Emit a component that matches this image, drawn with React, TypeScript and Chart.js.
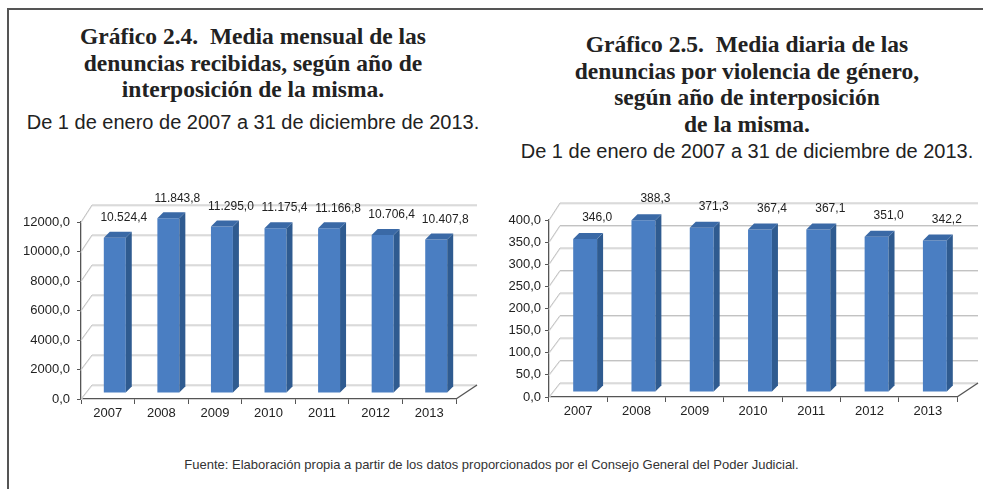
import React, { useEffect, useRef } from "react";
import { Chart, registerables } from "chart.js";
Chart.register(...registerables);

const years = ["2007", "2008", "2009", "2010", "2011", "2012", "2013"];
const monthlyMeans = [10524.4, 11843.8, 11295.0, 11175.4, 11166.8, 10706.4, 10407.8];
const dailyMeans = [346.0, 388.3, 371.3, 367.4, 367.1, 351.0, 342.2];
const monthlyTicks = [0, 2000, 4000, 6000, 8000, 10000, 12000];
const dailyTicks = [0, 50, 100, 150, 200, 250, 300, 350, 400];

const fmtThousands = (v: number) => {
  const [i, d] = v.toFixed(1).split(".");
  return i.replace(/\B(?=(\d{3})+(?!\d))/g, ".") + "," + d;
};
const fmtPlain = (v: number) => v.toFixed(1).replace(".", ",");

const threeD = {
  id: "threeD",
  beforeDatasetsDraw(chart: any, _a: any, o: any) {
    const { ctx, chartArea: ca } = chart;
    const L = ca.left, R = ca.right, T = ca.top, B = ca.bottom;
    const back = (x: number, y: number) => [
      x + o.dxL + ((x - L) / (R - L)) * (o.dxR - o.dxL),
      y + o.dyT + ((y - T) / (B - T)) * (o.dyB - o.dyT),
    ];
    const ys = chart.scales.y;
    ctx.save();
    ys.ticks.forEach((t: any) => {
      const y = ys.getPixelForValue(t.value);
      const [bx, by] = back(L, y);
      const [ex, ey] = back(R, y);
      ctx.lineWidth = 1;
      ctx.strokeStyle = "#e6e6e6";
      ctx.beginPath();
      ctx.moveTo(L, y + 1);
      ctx.lineTo(bx, by + 1);
      ctx.lineTo(ex, ey + 1);
      ctx.stroke();
      ctx.strokeStyle = "#c2c2c2";
      ctx.beginPath();
      ctx.moveTo(L, y);
      ctx.lineTo(bx, by);
      ctx.lineTo(ex, ey);
      ctx.stroke();
    });
    const [fx, fy] = back(R, B);
    ctx.strokeStyle = "#555";
    ctx.lineWidth = 1.3;
    ctx.beginPath();
    ctx.moveTo(R, B);
    ctx.lineTo(fx, fy);
    ctx.stroke();
    ctx.restore();
    ctx.save();
    ctx.translate(o.barDx, o.barDy);
  },
  afterDatasetsDraw(chart: any, _a: any, o: any) {
    const { ctx } = chart;
    const meta = chart.getDatasetMeta(0);
    const d = o.depth;
    meta.data.forEach((bar: any) => {
      const x2 = bar.x + bar.width / 2;
      const x1 = bar.x - bar.width / 2;
      const yt = bar.y;
      const yb = bar.base;
      ctx.fillStyle = "#2f5b90";
      ctx.beginPath();
      ctx.moveTo(x2, yt);
      ctx.lineTo(x2 + d, yt - d);
      ctx.lineTo(x2 + d, yb - d);
      ctx.lineTo(x2, yb);
      ctx.closePath();
      ctx.fill();
      ctx.fillStyle = "#3a69a6";
      ctx.beginPath();
      ctx.moveTo(x1, yt);
      ctx.lineTo(x1 + d, yt - d);
      ctx.lineTo(x2 + d, yt - d);
      ctx.lineTo(x2, yt);
      ctx.closePath();
      ctx.fill();
    });
    ctx.restore();
    ctx.save();
    ctx.fillStyle = "#222";
    ctx.font = "12px 'Liberation Sans', Arial, sans-serif";
    ctx.textAlign = "center";
    ctx.textBaseline = "middle";
    const vals = chart.data.datasets[0].data;
    meta.data.forEach((bar: any, i: number) => {
      ctx.fillText(o.fmt(vals[i]), bar.x + o.labelDx, bar.y + o.labelDy);
    });
    ctx.restore();
  },
};

type Cfg = {
  values: number[];
  ticks: number[];
  max: number;
  fmt: (v: number) => string;
  tickFmt: (v: number) => string;
  width: number;
  height: number;
  padding: { left: number; right: number; top: number; bottom: number };
  yWidth: number;
  xHeight: number;
  yPad: number;
  geom: any;
};

function Bar3D({ cfg, style }: { cfg: Cfg; style: React.CSSProperties }) {
  const ref = useRef<HTMLCanvasElement>(null);
  useEffect(() => {
    const font = { family: "'Liberation Sans', Arial, sans-serif", size: 13 };
    const chart = new Chart(ref.current!, {
      type: "bar",
      data: {
        labels: years,
        datasets: [
          {
            data: cfg.values,
            backgroundColor: "#4a7ec2",
            barPercentage: 0.41,
            categoryPercentage: 1,
            clip: false as any,
          },
        ],
      },
      plugins: [threeD as any],
      options: {
        responsive: false,
        animation: false,
        devicePixelRatio: 1,
        layout: { padding: cfg.padding },
        plugins: {
          legend: { display: false },
          tooltip: { enabled: false },
          threeD: { ...cfg.geom, fmt: cfg.fmt },
        } as any,
        scales: {
          x: {
            offset: true,
            grid: {
              offset: true,
              drawOnChartArea: false,
              drawTicks: true,
              tickLength: 5,
              tickColor: "#555",
            },
            border: { display: true, color: "#555", width: 1.3 },
            ticks: { color: "#222", font, padding: 2, maxRotation: 0 },
            afterFit: (s: any) => {
              s.height = cfg.xHeight;
            },
          },
          y: {
            min: 0,
            max: cfg.max,
            afterBuildTicks: (s: any) => {
              s.ticks = cfg.ticks.map((v) => ({ value: v }));
            },
            grid: {
              drawOnChartArea: false,
              drawTicks: true,
              tickLength: 4,
              tickColor: "#555",
            },
            border: { display: true, color: "#555", width: 1.3 },
            ticks: {
              color: "#222",
              font,
              padding: cfg.yPad,
              callback: (v: any) => cfg.tickFmt(Number(v)),
            },
            afterFit: (s: any) => {
              s.width = cfg.yWidth;
            },
          },
        },
      },
    });
    return () => chart.destroy();
  }, []);
  return (
    <canvas
      ref={ref}
      width={cfg.width}
      height={cfg.height}
      style={{ position: "absolute", width: cfg.width, height: cfg.height, ...style }}
    />
  );
}

const leftCfg: Cfg = {
  values: monthlyMeans,
  ticks: monthlyTicks,
  max: 12000,
  fmt: fmtThousands,
  tickFmt: fmtPlain,
  width: 480,
  height: 250,
  padding: { left: 0, right: 34, top: 42, bottom: 0 },
  yWidth: 71,
  xHeight: 31,
  yPad: 7,
  geom: { dxL: 11, dxR: 21, dyT: -17, dyB: -14, barDx: 7, barDy: -6, depth: 6, labelDx: 16, labelDy: -26 },
};

const rightCfg: Cfg = {
  values: dailyMeans,
  ticks: dailyTicks,
  max: 400,
  fmt: fmtPlain,
  tickFmt: fmtPlain,
  width: 483,
  height: 250,
  padding: { left: 0, right: 26, top: 40, bottom: 0 },
  yWidth: 49,
  xHeight: 33,
  yPad: 4,
  geom: { dxL: 11, dxR: 21, dyT: -17, dyB: -14, barDx: 7, barDy: -5, depth: 6, labelDx: 19, labelDy: -26 },
};

const titleStyle: React.CSSProperties = {
  fontFamily: "'Liberation Serif', 'DejaVu Serif', serif",
  fontWeight: "bold",
  fontSize: 23.5,
  lineHeight: "26.5px",
  color: "#222",
};
const subStyle: React.CSSProperties = {
  fontFamily: "'Liberation Sans', Arial, sans-serif",
  fontSize: 20,
  lineHeight: "28px",
  color: "#222",
};

export default function App() {
  return (
    <div
      style={{
        position: "absolute",
        left: 0,
        top: 0,
        width: 983,
        height: 489,
        overflow: "hidden",
        background: "#fff",
      }}
    >
      <div
        style={{
          position: "absolute",
          left: 7,
          top: 8,
          width: 990,
          height: 500,
          borderLeft: "2px solid #555",
          borderTop: "2px solid #555",
        }}
      />
      <div style={{ position: "absolute", left: 8, top: 23, width: 490, textAlign: "center" }}>
        <div style={titleStyle}>
          Gráfico 2.4.&nbsp; Media mensual de las
          <br />
          denuncias recibidas, según año de
          <br />
          interposición de la misma.
        </div>
        <div style={{ ...subStyle, marginTop: 5 }}>De 1 de enero de 2007 a 31 de diciembre de 2013.</div>
      </div>
      <div style={{ position: "absolute", left: 502, top: 31, width: 490, textAlign: "center" }}>
        <div style={titleStyle}>
          Gráfico 2.5.&nbsp; Media diaria de las
          <br />
          denuncias por violencia de género,
          <br />
          según año de interposición
          <br />
          de la misma.
        </div>
        <div style={subStyle}>De 1 de enero de 2007 a 31 de diciembre de 2013.</div>
      </div>
      <Bar3D cfg={leftCfg} style={{ left: 10, top: 180 }} />
      <Bar3D cfg={rightCfg} style={{ left: 500, top: 180 }} />
      <div
        style={{
          position: "absolute",
          left: 0,
          top: 457,
          width: 983,
          textAlign: "center",
          fontFamily: "'Liberation Sans', Arial, sans-serif",
          fontSize: 13,
          color: "#333",
        }}
      >
        Fuente: Elaboración propia a partir de los datos proporcionados por el Consejo General del Poder Judicial.
      </div>
    </div>
  );
}
